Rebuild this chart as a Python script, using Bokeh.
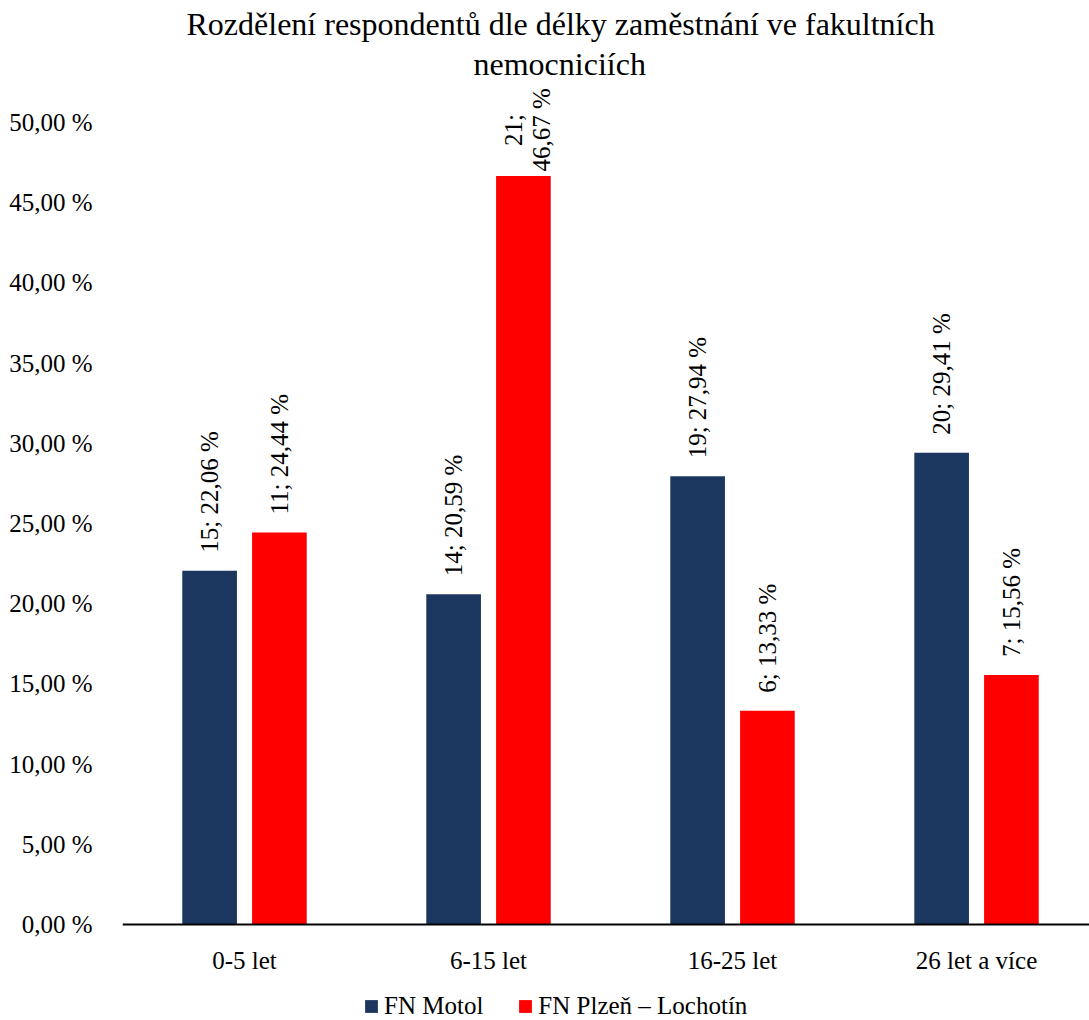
import math

from bokeh.core.properties import value
from bokeh.embed import file_html
from bokeh.models import (ColumnDataSource, FixedTicker, Legend, LegendItem,
                          Range1d, Title)
from bokeh.plotting import figure
from bokeh.resources import INLINE
from bokeh.transform import dodge

# ---- data -----------------------------------------------------------------
categories = ["0-5 let", "6-15 let", "16-25 let", "26 let a více"]
series_names = ["FN Motol", "FN Plzeň – Lochotín"]

motol_counts = [15, 14, 19, 20]
motol_pct = [22.06, 20.59, 27.94, 29.41]

plzen_counts = [11, 21, 6, 7]
plzen_pct = [24.44, 46.67, 13.33, 15.56]

y_ticks = [0, 5, 10, 15, 20, 25, 30, 35, 40, 45, 50]
y_tick_labels = ["0,00 %", "5,00 %", "10,00 %", "15,00 %", "20,00 %", "25,00 %",
                 "30,00 %", "35,00 %", "40,00 %", "45,00 %", "50,00 %"]

title_lines = ["Rozdělení respondentů dle délky zaměstnání ve fakultních",
               "nemocniciích"]

# ---- styling --------------------------------------------------------------
FONT = "Liberation Serif"
NAVY = "#1b375f"
RED = "#ff0000"
BAR_W = 0.224
OFFSET = 0.143
WRAP_ABOVE = 40      # labels of taller bars are broken into two lines
LINE_STEP = 28       # px between the lines of a wrapped label


def fmt(count, pct):
    return [f"{count};", f"{pct:.2f}".replace(".", ",") + " %"]


idx = list(range(len(categories)))

# the frame runs down to the bottom edge so that the legend fits inside it;
# the category axis is pinned to y = 0
p = figure(width=1089, height=1020,
           x_range=Range1d(-0.5, 3.463), y_range=Range1d(-5.985, 52.37),
           output_backend="svg", toolbar_location=None,
           min_border_left=122, min_border_right=0,
           min_border_top=84, min_border_bottom=0)
p.outline_line_color = None
p.background_fill_color = "#ffffff"
p.border_fill_color = "#ffffff"
p.xgrid.visible = False
p.ygrid.visible = False

src_m = ColumnDataSource(dict(idx=idx, pct=motol_pct))
src_p = ColumnDataSource(dict(idx=idx, pct=plzen_pct))

r_m = p.vbar(x=dodge("idx", -OFFSET, range=p.x_range), top="pct", width=BAR_W,
             source=src_m, fill_color=NAVY, line_color=None)
r_p = p.vbar(x=dodge("idx", OFFSET, range=p.x_range), top="pct", width=BAR_W,
             source=src_p, fill_color=RED, line_color=None)

text_style = dict(angle=math.pi / 2, text_baseline="middle",
                  text_font=value(FONT), text_font_size="25px",
                  text_color="#000000")

# value labels, rotated to read bottom-to-top
for counts, pcts, off in ((motol_counts, motol_pct, -OFFSET),
                          (plzen_counts, plzen_pct, OFFSET)):
    xs = dodge("idx", off, range=p.x_range)
    single = dict(idx=[], pct=[], label=[])
    wrapped = []
    for i, (c, v) in enumerate(zip(counts, pcts)):
        parts = fmt(c, v)
        if v > WRAP_ABOVE:
            wrapped.append((i, v, parts))
        else:
            single["idx"].append(i)
            single["pct"].append(v)
            single["label"].append(" ".join(parts))
    p.text(x=xs, y="pct", text="label", source=ColumnDataSource(single),
           text_align="left", y_offset=-18, **text_style)
    for i, v, parts in wrapped:
        n = len(parts)
        for k, part in enumerate(parts):
            p.text(x=xs, y="pct", text="label",
                   source=ColumnDataSource(dict(idx=[i], pct=[v], label=[part])),
                   text_align="center", y_offset=-46,
                   x_offset=(k - (n - 1) / 2) * LINE_STEP + 4, **text_style)

# axes
p.xaxis.fixed_location = 0
p.xaxis.ticker = FixedTicker(ticks=idx)
p.xaxis.major_label_overrides = {i: c for i, c in zip(idx, categories)}
p.xaxis.major_tick_line_color = None
p.xaxis.minor_tick_line_color = None
p.xaxis.axis_line_color = "#000000"
p.xaxis.axis_line_width = 2
p.xaxis.major_label_standoff = 16
p.xaxis.major_label_text_font = FONT
p.xaxis.major_label_text_font_size = "25px"
p.xaxis.major_label_text_color = "#000000"

p.yaxis.ticker = FixedTicker(ticks=y_ticks)
p.yaxis.major_label_overrides = {t: s for t, s in zip(y_ticks, y_tick_labels)}
p.yaxis.major_tick_line_color = None
p.yaxis.minor_tick_line_color = None
p.yaxis.axis_line_color = None
p.yaxis.major_label_standoff = 24
p.yaxis.major_label_text_font = FONT
p.yaxis.major_label_text_font_size = "25px"
p.yaxis.major_label_text_color = "#000000"

# title: two lines, each centred over the chart (panels nearest the frame first)
title_style = dict(align="left", text_font=FONT, text_font_size="32px",
                   text_font_style="normal", text_color="#000000")
p.add_layout(Title(text=title_lines[1], offset=351, standoff=5, **title_style),
             "above")
p.add_layout(Title(text=title_lines[0], offset=64, standoff=0, **title_style),
             "above")

legend = Legend(items=[LegendItem(label=series_names[0], renderers=[r_m]),
                       LegendItem(label=series_names[1], renderers=[r_p])],
                orientation="horizontal", location=(241, 0),
                glyph_width=16, glyph_height=16, label_standoff=5,
                spacing=34, padding=0, margin=0,
                border_line_color=None, background_fill_alpha=0,
                label_text_font=FONT, label_text_font_size="25px",
                label_text_color="#000000")
p.add_layout(legend, "center")

open("out.html", "w").write(file_html(p, INLINE))
